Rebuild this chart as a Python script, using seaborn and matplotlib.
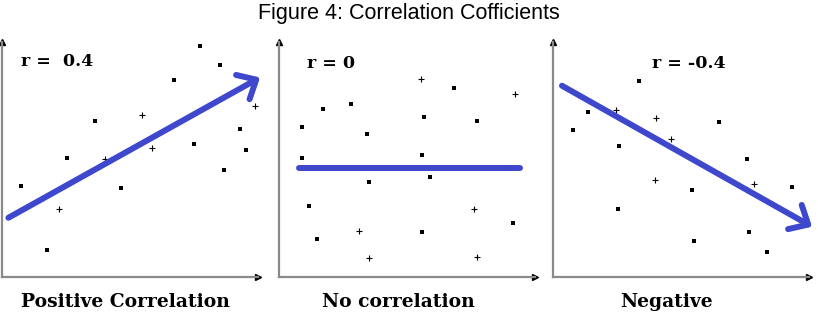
import numpy as np
import matplotlib
matplotlib.use("Agg")
import matplotlib.pyplot as plt
import seaborn as sns
import pandas as pd

# positive correlation panel
pos_dot_x = [7.73, 8.52, 6.71, 3.62, 9.31, 7.50, 9.52, 2.54, 8.67, 0.75, 4.65, 1.75]
pos_dot_y = [9.83, 9.01, 8.38, 6.62, 6.28, 5.65, 5.39, 5.08, 4.55, 3.87, 3.80, 1.15]
pos_plus_x = [9.89, 5.48, 5.87, 4.02, 2.24]
pos_plus_y = [7.28, 6.89, 5.49, 5.04, 2.89]
pos_trend_x = [0.25, 10.08]
pos_trend_y = [2.52, 8.49]

# no correlation panel
zero_dot_x = [6.84, 1.72, 2.81, 5.66, 7.72, 0.90, 3.43, 0.90, 5.60, 5.91, 3.53,
              1.19, 9.13, 5.59, 1.47]
zero_dot_y = [8.03, 7.14, 7.35, 6.80, 6.62, 6.38, 6.09, 5.06, 5.19, 4.24, 4.04,
              3.03, 2.31, 1.90, 1.62]
zero_plus_x = [5.54, 9.23, 7.62, 3.14, 3.53, 7.73]
zero_plus_y = [8.41, 7.80, 2.89, 1.97, 0.81, 0.86]
zero_trend_x = [0.78, 9.40]
zero_trend_y = [4.65, 4.65]

# negative correlation panel
neg_dot_x = [3.36, 1.35, 6.47, 0.77, 2.56, 7.56, 9.32, 5.43, 2.54, 7.67, 5.51, 8.36]
neg_dot_y = [8.34, 7.03, 6.58, 6.24, 5.59, 5.03, 3.83, 3.72, 2.91, 1.90, 1.55, 1.08]
neg_plus_x = [2.47, 4.04, 4.59, 4.00, 7.84]
neg_plus_y = [7.12, 6.78, 5.87, 4.14, 3.96]
neg_trend_x = [0.35, 10.12]
neg_trend_y = [8.14, 2.14]

r_labels = ["r =  0.4", "r = 0", "r = -0.4"]
names = ["Positive Correlation", "No correlation", "Negative"]

sns.set_style("white")
plt.rcParams["font.family"] = ["Liberation Sans", "DejaVu Sans"]
plt.rcParams["text.color"] = "black"

W, H = 818, 324
fig = plt.figure(figsize=(W / 100, H / 100), dpi=100)
blue = "#3f48cc"

panels = [
    (2, pos_dot_x, pos_dot_y, pos_plus_x, pos_plus_y, pos_trend_x, pos_trend_y, True, (21, 62)),
    (279, zero_dot_x, zero_dot_y, zero_plus_x, zero_plus_y, zero_trend_x, zero_trend_y, False, (307, 63)),
    (553, neg_dot_x, neg_dot_y, neg_plus_x, neg_plus_y, neg_trend_x, neg_trend_y, True, (652, 63)),
]
label_x = [21, 322, 620]

for i, (left, dx, dy, px, py, tx, ty, arrow, rpos) in enumerate(panels):
    ax = fig.add_axes([left / W, 47 / H, 256 / W, 235 / H])
    ax.set_xlim(0, 10)
    ax.set_ylim(0, 10)
    sns.scatterplot(x=dx, y=dy, ax=ax, marker="s", s=6, color="black",
                    linewidth=0)
    sns.scatterplot(x=px, y=py, ax=ax, marker="+", s=14, color="black",
                    linewidth=0.8)
    if arrow:
        ax.annotate("", xy=(tx[1], ty[1]), xytext=(tx[0], ty[0]),
                    annotation_clip=False,
                    arrowprops=dict(arrowstyle="->,head_length=0.55,head_width=0.5",
                                    lw=4.3, color=blue, mutation_scale=20,
                                    shrinkA=0, shrinkB=0, capstyle="round"))
    else:
        sns.lineplot(x=tx, y=ty, ax=ax, color=blue, lw=4.3)
    ax.set_xticks([])
    ax.set_yticks([])
    for side in ["top", "right"]:
        ax.spines[side].set_visible(False)
    for side in ["left", "bottom"]:
        ax.spines[side].set_color("#8a8a8a")
        ax.spines[side].set_linewidth(1.6)
    ax.plot(1, 0, ">k", ms=5, transform=ax.get_yaxis_transform(), clip_on=False)
    ax.plot(0, 1, "^k", ms=5, transform=ax.get_xaxis_transform(), clip_on=False)
    ax.patch.set_alpha(0)

    fig.text(rpos[0] / W, 1 - rpos[1] / H, r_labels[i], ha="left", va="center",
             fontsize=12.5, fontweight="bold", family="DejaVu Serif")
    fig.text(label_x[i] / W, 1 - 302 / H, names[i], ha="left", va="center",
             fontsize=13.5, fontweight="bold", family="DejaVu Serif")

fig.text(0.5, 1 - 13.5 / H, "Figure 4: Correlation Cofficients", ha="center",
         va="center", fontsize=15.5)

plt.savefig("out.png", dpi=100)
